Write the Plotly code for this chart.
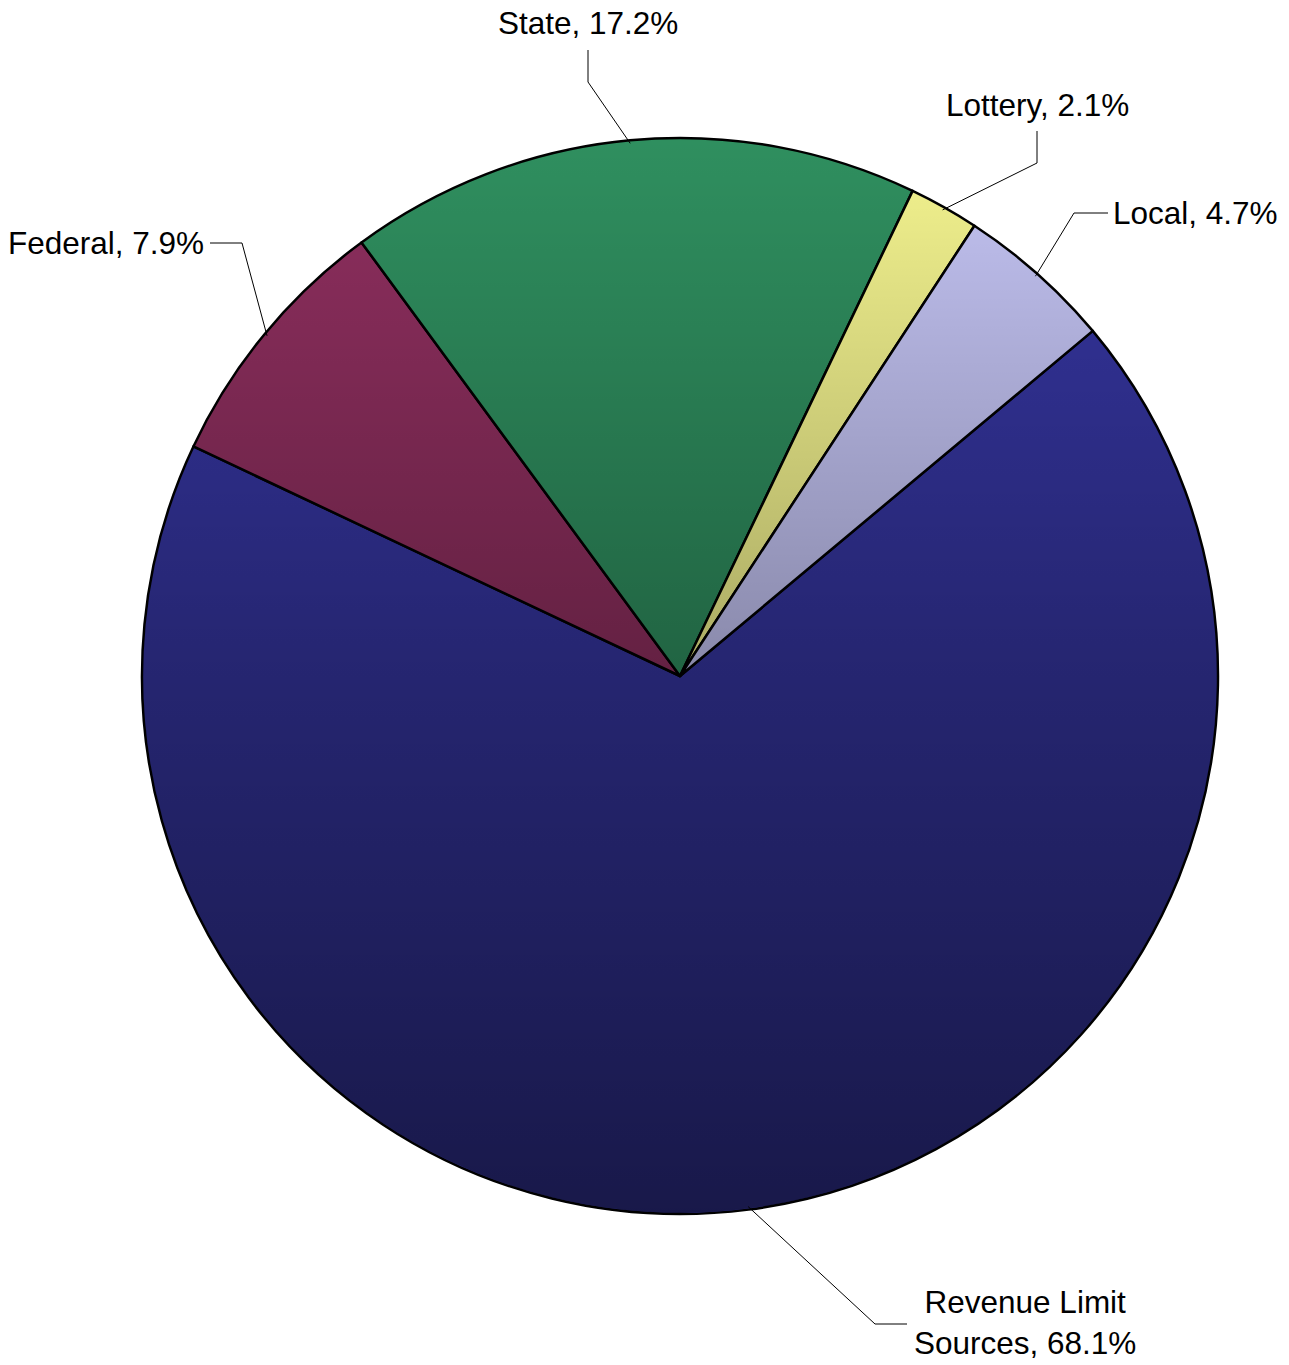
import math
import base64
import plotly.graph_objects as go

# ---- data ----
categories = ["Revenue Limit Sources", "Federal", "State", "Lottery", "Local"]
shares = [68.1, 7.9, 17.2, 2.1, 4.7]
label_texts = ["Revenue Limit<br>Sources, 68.1%", "Federal, 7.9%", "State, 17.2%",
               "Lottery, 2.1%", "Local, 4.7%"]
slice_colors = ["#3535A0", "#8F2F5F", "#2F8F5F", "#F4F48F", "#C4C4F4"]

# ---- layout geometry (screen pixels) ----
W, H = 1289, 1365
CX, CY, R = 680, 676, 538          # pie centre / radius in pixels
ROTATION = 50.1                     # start of first slice, clockwise from 12 o'clock

def px(x):
    return x / W

def py(y):
    return 1 - y / H

dom_x = [px(CX - R), px(CX + R)]
dom_y = [py(CY + R), py(CY - R)]

fig = go.Figure()
fig.add_trace(go.Pie(
    labels=categories,
    values=shares,
    sort=False,
    direction="clockwise",
    rotation=ROTATION,
    textinfo="none",
    hoverinfo="label+percent",
    marker=dict(colors=slice_colors, line=dict(color="#000000", width=2.5)),
    domain=dict(x=dom_x, y=dom_y),
    showlegend=False,
))

# vertical shading overlay (lighter top, darker bottom)
svg = ('<svg xmlns="http://www.w3.org/2000/svg" width="1000" height="1000" viewBox="0 0 1000 1000">'
       '<defs><linearGradient id="g" x1="0" y1="0" x2="0" y2="1">'
       '<stop offset="0" stop-color="#000" stop-opacity="0"/>'
       '<stop offset="0.5" stop-color="#000" stop-opacity="0.3"/>'
       '<stop offset="1" stop-color="#000" stop-opacity="0.54"/>'
       '</linearGradient></defs>'
       '<circle cx="500" cy="500" r="499" fill="url(#g)"/></svg>')
src = "data:image/svg+xml;base64," + base64.b64encode(svg.encode()).decode()
fig.add_layout_image(dict(source=src, xref="paper", yref="paper",
                          x=dom_x[0], y=dom_y[1], sizex=dom_x[1] - dom_x[0],
                          sizey=dom_y[1] - dom_y[0], xanchor="left", yanchor="top",
                          sizing="stretch", layer="above", opacity=1))

# label layout: (text x, text y), xanchor, leader start, leader elbow
label_layout = {
    "Revenue Limit Sources": ((1025, 1322), "center", (907, 1324), (875, 1324)),
    "Federal": ((205, 243), "right", (210, 243), (242, 243)),
    "State": ((588, 23), "center", (588, 50), (588, 82)),
    "Lottery": ((1037, 105), "center", (1037, 131), (1037, 163)),
    "Local": ((1112, 213), "left", (1108, 213), (1074, 213)),
}

total = sum(shares)
angle = ROTATION
for cat, val, txt in zip(categories, shares, label_texts):
    span = val / total * 360.0
    mid = math.radians(angle + span / 2)
    angle += span
    ex = CX + (R - 3) * math.sin(mid)
    ey = CY - (R - 3) * math.cos(mid)
    (tx, ty), xa, (sx, sy), (bx, by) = label_layout[cat]
    fig.add_shape(type="path", xref="paper", yref="paper",
                  path=f"M {px(sx)} {py(sy)} L {px(bx)} {py(by)} L {px(ex)} {py(ey)}",
                  line=dict(color="#000000", width=1), layer="above")
    fig.add_annotation(x=px(tx), y=py(ty), xref="paper", yref="paper", text=txt,
                       showarrow=False, xanchor=xa, yanchor="middle", align="center",
                       borderpad=0,
                       font=dict(family="Liberation Sans, Arial, sans-serif", size=31.5, color="#000000"))

fig.update_layout(
    width=W, height=H,
    margin=dict(l=0, r=0, t=0, b=0),
    paper_bgcolor="#FFFFFF",
    plot_bgcolor="#FFFFFF",
)

fig.write_html("out.html", config={"displayModeBar": False},
               post_script="document.body.style.margin='0';document.body.style.overflow='hidden';")
